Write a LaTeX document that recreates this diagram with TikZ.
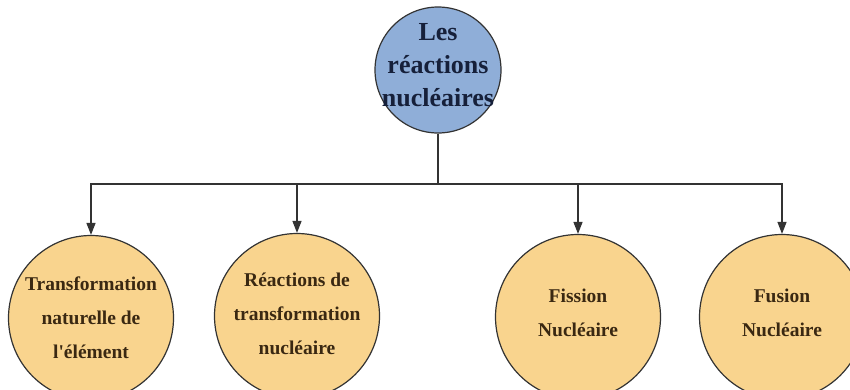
\documentclass[tikz,border=0pt]{standalone}
\usepackage{fontspec}
\setmainfont{Liberation Serif}
\usetikzlibrary{arrows.meta, positioning}
\definecolor{topblue}{HTML}{8FAED8}
\definecolor{leafyellow}{HTML}{F9D48E}
\definecolor{edgegray}{HTML}{333333}
\definecolor{leaftext}{HTML}{3A2812}
\definecolor{toptext}{HTML}{16203A}

\tikzset{
  topcircle/.style={circle, draw=edgegray, line width=1.2pt, fill=topblue, minimum size=126pt, inner sep=0pt},
  leafcircle/.style={circle, draw=edgegray, line width=1.2pt, fill=leafyellow, minimum size=165pt, inner sep=0pt},
  toplabel/.style={align=center, inner sep=0pt, text=toptext, font=\fontsize{26}{33}\selectfont\bfseries},
  leaflabel/.style={align=center, inner sep=0pt, text=leaftext, font=\fontsize{19.5}{34}\selectfont\bfseries},
  branch/.style={draw=edgegray, line width=1.3pt, -{Triangle[length=12pt,width=9pt]}},
  trunk/.style={draw=edgegray, line width=1.3pt}
}

\begin{document}
\begin{tikzpicture}[x=1pt, y=-1pt]
    \useasboundingbox (0, 0) rectangle (850, 389);
    \clip (0, 0) rectangle (850, 389);

    % Root
    \node[topcircle] (root) at (438, 70) {};
    \node[toplabel] (root-text) at (438, 65) {Les\\réactions\\nucléaires};

    % Leaves
    \node[leafcircle] (natural) at (91, 318) {};
    \node[leafcircle] (transfo) at (297, 316) {};
    \node[leafcircle] (fission) at (578, 317) {};
    \node[leafcircle] (fusion) at (782, 317) {};

    \node[leaflabel] (natural-text) at (natural) {Transformation\\naturelle de\\l\textquotesingle élément};
    \node[leaflabel] (transfo-text) at ([yshift=2pt]transfo) {Réactions de\\transformation\\nucléaire};
    \node[leaflabel] (fission-text) at ([yshift=4pt]fission) {Fission\\Nucléaire};
    \node[leaflabel] (fusion-text) at ([yshift=4pt]fusion) {Fusion\\Nucléaire};

    % Connectors
    \coordinate (bus) at (438, 184);
    \draw[trunk] (root) -- (bus);
    \draw[branch] (bus) -| (natural);
    \draw[branch] (bus) -| (transfo);
    \draw[branch] (bus) -| (fission);
    \draw[branch] (bus) -| (fusion);
\end{tikzpicture}
\end{document}
